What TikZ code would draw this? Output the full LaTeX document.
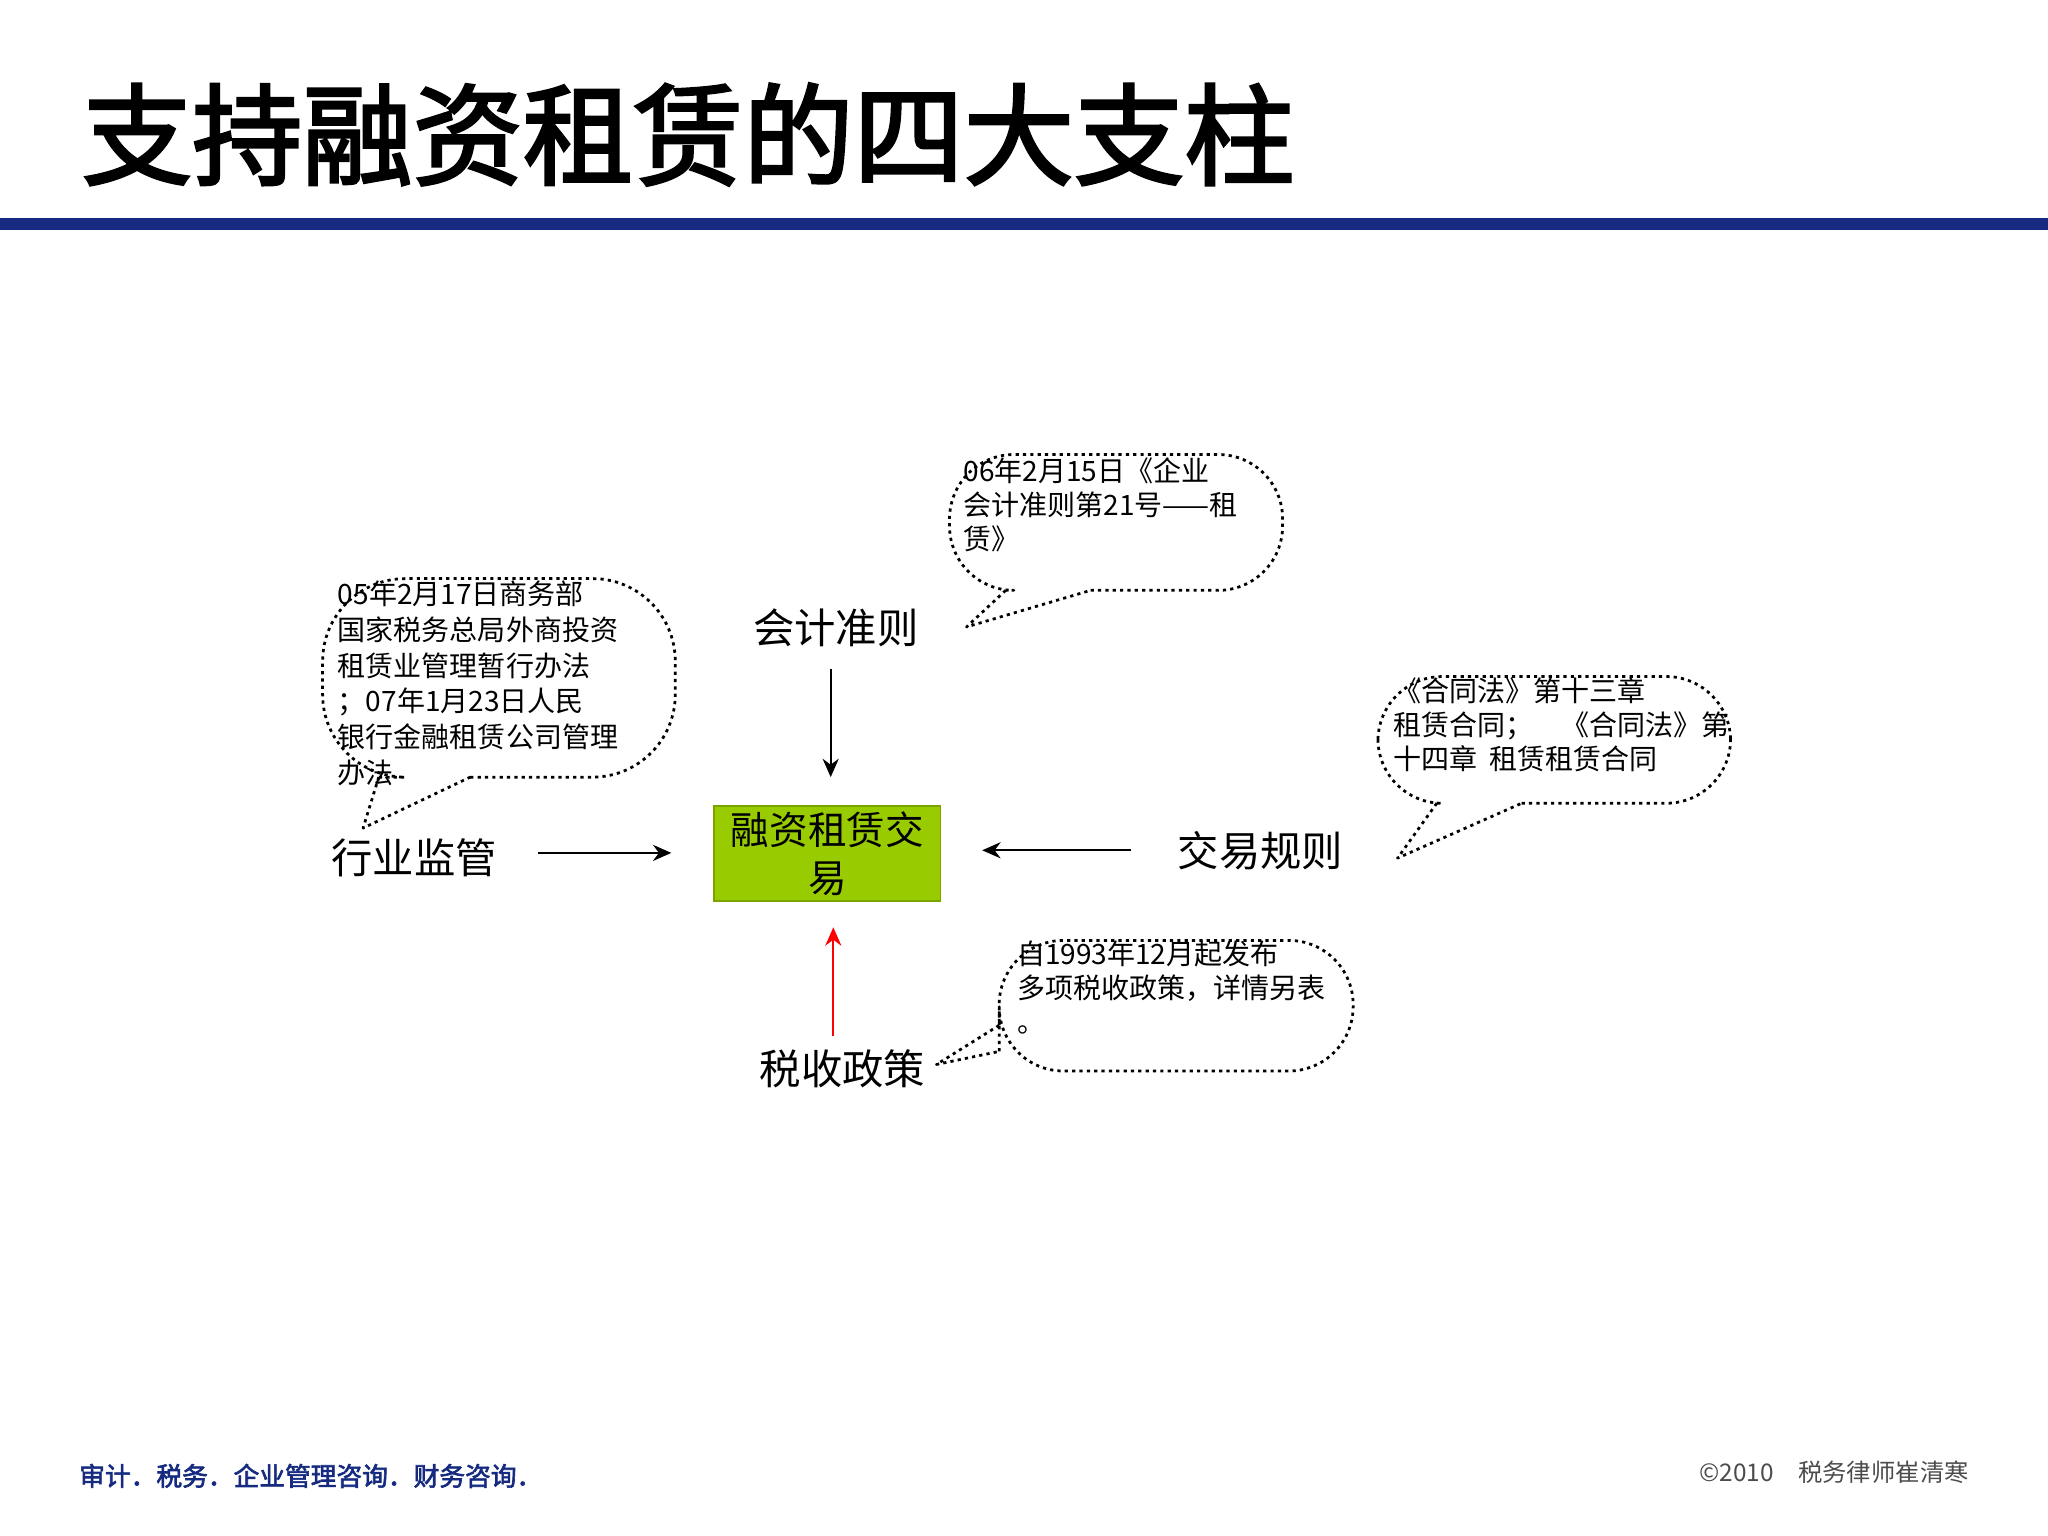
\documentclass[tikz,border=0pt]{standalone}
\usepackage{fontspec}
\setmainfont{Liberation Serif}
\newfontfamily\cjk{Noto Sans CJK SC}
\newfontfamily\cjkb{Noto Sans CJK SC}[FakeBold=2.5]
\usetikzlibrary{arrows.meta}
\definecolor{navy}{RGB}{22,43,128}
\definecolor{lgreen}{RGB}{153,204,0}
\begin{document}
\begin{tikzpicture}[x=0.01cm,y=-0.01cm,
  lab/.style={font=\cjk\fontsize{9}{10}\selectfont, inner sep=0pt},
  call/.style={draw, line width=0.6pt, dash pattern=on 0.7pt off 0.9pt, line join=round},
  ctext/.style={font=\cjk\fontsize{6.1}{7.4}\selectfont, align=left, anchor=north west, inner sep=0pt},
  arr/.style={-{Stealth[length=4pt,width=3.5pt]}, line width=0.5pt}]
\useasboundingbox (0,0) rectangle (1568,1176);
\node[font=\cjkb\fontsize{24}{26}\selectfont, anchor=west, inner sep=0pt] (title) at (62,103) {支持融资租赁的四大支柱};
\fill[navy] (0,167) rectangle (1568,176);
% center
\node[fill=lgreen, draw=lgreen!80!black, minimum width=1.73cm, minimum height=0.73cm, align=center,
  font=\cjk\fontsize{8.4}{10.5}\selectfont, inner sep=0pt] (c) at (633.5,653.5) {融资租赁交\\易};
\node[lab] (acc) at (640,481) {会计准则};
\node[lab] (ind) at (317,657) {行业监管};
\node[lab] (tra) at (965,651) {交易规则};
\node[lab] (tax) at (645,818) {税收政策};
\coordinate (a1s) at (636,512); \coordinate (a1e) at (636,595);
\coordinate (a2s) at (412,653); \coordinate (a2e) at (514,653);
\coordinate (a3s) at (866,651); \coordinate (a3e) at (752,651);
\coordinate (a4s) at (638,793); \coordinate (a4e) at (638,710);
\draw[arr] (a1s) -- (a1e);
\draw[arr] (a2s) -- (a2e);
\draw[arr] (a3s) -- (a3e);
\draw[arr, red] (a4s) -- (a4e);
% callouts
\draw[call, rounded corners=14] (835,452) -- (982,452) -- (982,348) -- (727,348) -- (727,452) -- (770,452);
\draw[call] (770,452) -- (740,480) -- (835,452);
\node[ctext] (t1) at (737,350) {06年2月15日《企业\\会计准则第21号——租\\赁》};
\draw[call, rounded corners=18] (360,595) -- (517,595) -- (517,443) -- (247,443) -- (247,595) -- (290,595);
\draw[call] (290,595) -- (278,634) -- (360,595);
\node[ctext, font=\cjk\fontsize{6.1}{7.8}\selectfont] (t2) at (258,444) {05年2月17日商务部\\国家税务总局外商投资\\租赁业管理暂行办法\\；07年1月23日人民\\银行金融租赁公司管理\\办法};
\draw[call, rounded corners=14] (1165,615) -- (1325,615) -- (1325,518) -- (1055,518) -- (1055,615) -- (1100,615);
\draw[call] (1100,615) -- (1070,657) -- (1165,615);
\node[ctext] (t3) at (1066,518) {《合同法》第十三章\\租赁合同；\quad《合同法》第\\十四章\ \ 租赁租赁合同};
\draw[call, rounded corners=14] (765,805) -- (765,820) -- (1036,820) -- (1036,720) -- (765,720) -- (765,785);
\draw[call] (765,785) -- (717,815) -- (765,805);
\node[ctext] (t4) at (778,720) {自1993年12月起发布\\多项税收政策，详情另表\\。};
% footer
\node[font=\cjkb\fontsize{5.6}{6}\selectfont, text=navy, anchor=west, inner sep=0pt] (f1) at (60,1130) {审计．税务．企业管理咨询．财务咨询．};
\node[font=\cjk\fontsize{5.3}{6}\selectfont, text=black!70, anchor=east, inner sep=0pt] (f2) at (1508,1127) {\textcopyright 2010\quad 税务律师崔清寒};
\end{tikzpicture}
\end{document}
